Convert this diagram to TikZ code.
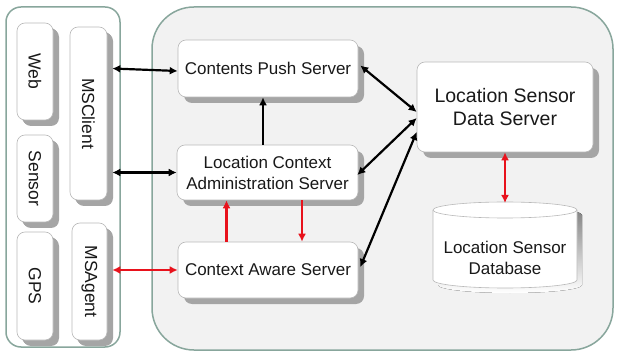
\documentclass[tikz,border=0pt]{standalone}
\usepackage{fontspec}
\setmainfont{Liberation Sans}
\usepackage{graphicx}
\usetikzlibrary{arrows.meta,shadows,calc}
\definecolor{frame}{RGB}{136,166,156}
\definecolor{panel}{RGB}{242,242,242}
\definecolor{boxline}{RGB}{185,185,185}
\definecolor{shade}{RGB}{165,165,165}
\definecolor{txt}{RGB}{25,25,25}
\definecolor{redarrow}{RGB}{232,18,28}
\tikzset{
  container/.style={draw=frame, line width=1.5pt},
  srvbox/.style={draw=boxline, line width=0.6pt, fill=white, rounded corners=8pt,
    drop shadow={shadow xshift=6pt, shadow yshift=-6pt, fill=shade, opacity=1},
    text=txt, align=center, font=\fontsize{17}{21}\selectfont, inner sep=0pt},
  sidebox/.style={srvbox, drop shadow={shadow xshift=5pt, shadow yshift=-5pt, fill=shade, opacity=1},
    font=\fontsize{17.5}{21}\selectfont},
  link/.style={line width=2.2pt, {Latex[length=8pt,width=8pt]}-{Latex[length=8pt,width=8pt]}},
  uplink/.style={line width=2.2pt, -{Latex[length=8pt,width=8pt]}},
}
\begin{document}
\begin{tikzpicture}[x=1pt,y=-1pt]
\useasboundingbox (0,0) rectangle (620,352);
\fill[white] (0,0) rectangle (620,352);
% containers
\draw[container, fill=white, rounded corners=15pt] (6,7) rectangle (120,347);
\draw[container, fill=panel, rounded corners=42pt] (152,7) rectangle (613,350);
% left boxes
\node[sidebox, minimum width=36pt, minimum height=97pt] (web) at (35,71.5) {\rotatebox{-90}{Web}};
\node[sidebox, minimum width=36pt, minimum height=87pt] (sensor) at (35,178.5) {\rotatebox{-90}{Sensor}};
\node[sidebox, minimum width=36pt, minimum height=108pt] (gps) at (35,286) {\rotatebox{-90}{GPS}};
\node[sidebox, minimum width=37pt, minimum height=173pt] (msclient) at (88.5,113.5) {\rotatebox{-90}{MSClient}};
\node[sidebox, minimum width=35pt, minimum height=117pt] (msagent) at (89.5,281.5) {\rotatebox{-90}{MSAgent}};
% servers
\node[srvbox, minimum width=180pt, minimum height=57pt] (cps) at (268,68.5) {Contents Push Server};
\node[srvbox, minimum width=181pt, minimum height=55pt] (lcas) at (267.5,172.5) {Location Context\\Administration Server};
\node[srvbox, minimum width=180pt, minimum height=56pt] (cas) at (268,270) {Context Aware Server};
\node[srvbox, minimum width=176pt, minimum height=90pt, font=\fontsize{19.5}{23}\selectfont] (lsds) at (505,107) {Location Sensor\\Data Server};
% database cylinder
\fill[shade] (438,215) -- (438,285) arc[start angle=180, end angle=0, x radius=72, y radius=8]
  -- (582,215) arc[start angle=0, end angle=-180, x radius=72, y radius=8] -- cycle;
\draw[boxline, line width=0.6pt, fill=white] (433,210) -- (433,280) arc[start angle=180, end angle=0, x radius=72, y radius=8]
  -- (577,210) arc[start angle=0, end angle=-180, x radius=72, y radius=8] -- cycle;
\draw[boxline, line width=0.6pt] (433,210) arc[start angle=180, end angle=0, x radius=72, y radius=8];
\node[text=txt, align=center, font=\fontsize{17}{21}\selectfont, inner sep=0pt] (db) at (505,257.5) {Location Sensor\\Database};
\coordinate (dbtop) at (505,203);
% connectors
\draw[link] ([xshift=5pt]msclient.east |- cps.west) -- ([yshift=-2.5pt]cps.west);
\draw[link] ([xshift=5pt]msclient.east |- lcas.west) -- (lcas.west);
\draw[link, redarrow] ([xshift=5pt]msagent.east |- cas.west) -- (cas.west);
\draw[uplink] ([xshift=-4.5pt]lcas.north) -- ([xshift=-4.5pt]lcas.north |- cps.south);
\draw[uplink, redarrow] ([xshift=-41.5pt]cas.north) -- ([xshift=-41.5pt]cas.north |- lcas.south);
\draw[uplink, redarrow] ([xshift=34.5pt]lcas.south) -- ([xshift=34.5pt]lcas.south |- cas.north);
\draw[link] ([xshift=2pt,yshift=3pt]cps.east) -- ([yshift=-5pt]lsds.west);
\draw[link] ([xshift=-1pt,yshift=-2.5pt]lcas.east) -- ([yshift=-11pt]lsds.west);
\draw[link] ([xshift=2pt,yshift=3pt]cas.east) -- ([yshift=-25pt]lsds.west);
\draw[link, redarrow] (lsds.south) -- (dbtop);
\end{tikzpicture}
\end{document}
